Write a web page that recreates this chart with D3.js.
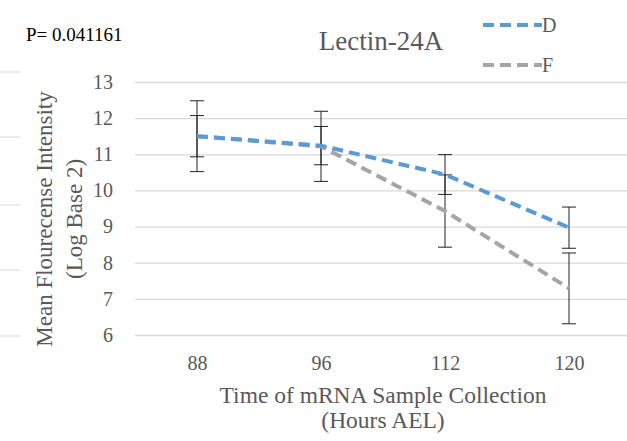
<!DOCTYPE html>
<html>
<head>
<meta charset="utf-8">
<script src="https://cdn.jsdelivr.net/npm/d3@7"></script>
<style>
  body { margin: 0; background: #fff; }
  svg text { font-family: "Liberation Serif", "Times New Roman", serif; }
</style>
</head>
<body>
<svg id="vis" width="627" height="441"></svg>
<script>
// data
const hours = ["88", "96", "112", "120"];
const seriesNames = ["D", "F"];
const valuesD = [11.50, 11.24, 10.44, 8.97];
const valuesF = [11.50, 11.22, 9.43, 7.29];
const errorD = [0.57, 0.53, 0.55, 0.57];
const errorF = [0.98, 0.97, 1.00, 0.98];
const yTicks = [6, 7, 8, 9, 10, 11, 12, 13];

const COLORS = {D: "#5b9bd5", F: "#a5a5a5", grid: "#d9d9d9", text: "#595959"};
const PLOT = {left: 135, right: 631, top: 82, bottom: 335};
const SERIF = "'Liberation Serif', 'Times New Roman', serif";

const svg = d3.select("#vis");

// scales
const x = d3.scalePoint()
    .domain(hours)
    .range([197, 569]);
const y = d3.scaleLinear()
    .domain([6, 13])
    .range([PLOT.bottom, PLOT.top]);

// stray edge lines from the neighbouring chart (left margin)
[72, 137, 205, 270, 336].forEach(function(yy){
    svg.append("line")
        .attr("x1", 0).attr("x2", 20)
        .attr("y1", yy).attr("y2", yy)
        .attr("stroke", "#e4e4e4").attr("stroke-width", 1.5);
});

// gridlines
const grid = svg.append("g")
    .attr("transform", `translate(${PLOT.left}, 0)`)
    .call(d3.axisLeft(y).tickValues(yTicks).tickSize(-(PLOT.right - PLOT.left)).tickFormat(""));
grid.select(".domain").remove();
grid.selectAll("line").attr("stroke", COLORS.grid).attr("stroke-width", 1.3);

// y tick labels
const yAxis = svg.append("g")
    .attr("transform", `translate(113, 0)`)
    .call(d3.axisLeft(y).tickValues(yTicks).tickFormat(d3.format("d")).tickSize(0).tickPadding(0));
yAxis.attr("font-family", SERIF);
yAxis.select(".domain").remove();
yAxis.selectAll("text")
    .attr("fill", COLORS.text)
    .style("font-size", "20px");

// x tick labels
const xAxis = svg.append("g")
    .attr("transform", `translate(0, 370)`)
    .call(d3.axisBottom(x).tickSize(0).tickPadding(0));
xAxis.attr("font-family", SERIF);
xAxis.select(".domain").remove();
xAxis.selectAll("text")
    .attr("fill", COLORS.text)
    .attr("y", 0)
    .attr("dy", 0)
    .style("font-size", "20px");

// axis titles
const xTitle = svg.append("text")
    .attr("y", 403)
    .attr("text-anchor", "middle")
    .attr("fill", COLORS.text)
    .style("font-size", "23.5px");
xTitle.append("tspan").attr("x", 383).text("Time of mRNA Sample Collection");
xTitle.append("tspan").attr("x", 383).attr("dy", 25).text("(Hours AEL)");

const yTitle = svg.append("text")
    .attr("transform", "translate(52, 219) rotate(-90)")
    .attr("text-anchor", "middle")
    .attr("fill", COLORS.text)
    .style("font-size", "23px");
yTitle.append("tspan").attr("x", 0).attr("y", 0).text("Mean Flourecense Intensity");
yTitle.append("tspan").attr("x", 0).attr("dy", 30).text("(Log Base 2)");

// chart title + p value
svg.append("text")
    .attr("x", 381).attr("y", 50)
    .attr("text-anchor", "middle")
    .attr("fill", COLORS.text)
    .style("font-size", "27px")
    .text("Lectin-24A");
svg.append("text")
    .attr("x", 26).attr("y", 41)
    .attr("fill", "#000")
    .style("font-size", "19px")
    .text("P= 0.041161");

// series
const series = [
    {name: "D", values: valuesD, errors: errorD, color: COLORS.D},
    {name: "F", values: valuesF, errors: errorF, color: COLORS.F}
];

const line = d3.line()
    .x(function(d){ return x(d.hour); })
    .y(function(d){ return y(d.value); });

// error bars first
series.forEach(function(s){
    const pts = hours.map(function(h, i){ return {hour: h, value: s.values[i], err: s.errors[i]}; });
    const eb = svg.append("g").attr("stroke", "#222").attr("stroke-width", 1);
    pts.forEach(function(p){
        const cx = x(p.hour);
        eb.append("line").attr("x1", cx).attr("x2", cx)
            .attr("y1", y(p.value + p.err)).attr("y2", y(p.value - p.err));
        [p.value + p.err, p.value - p.err].forEach(function(v){
            eb.append("line").attr("x1", cx - 7).attr("x2", cx + 7)
                .attr("y1", y(v)).attr("y2", y(v));
        });
    });
});

// lines: F underneath, D on top
[series[1], series[0]].forEach(function(s){
    const pts = hours.map(function(h, i){ return {hour: h, value: s.values[i]}; });
    svg.append("path")
        .datum(pts)
        .attr("d", line)
        .attr("fill", "none")
        .attr("stroke", s.color)
        .attr("stroke-width", 4)
        .attr("stroke-dasharray", "11,6");
});

// legend
seriesNames.forEach(function(n, i){
    const s = series[i];
    const ly = 25 + i * 40;
    svg.append("line")
        .attr("x1", 483).attr("x2", 542)
        .attr("y1", ly).attr("y2", ly)
        .attr("stroke", s.color)
        .attr("stroke-width", 4)
        .attr("stroke-dasharray", "11,6");
    svg.append("text")
        .attr("x", 542).attr("y", ly + 7)
        .attr("fill", COLORS.text)
        .style("font-size", "20px")
        .text(n);
});
</script>
</body>
</html>
